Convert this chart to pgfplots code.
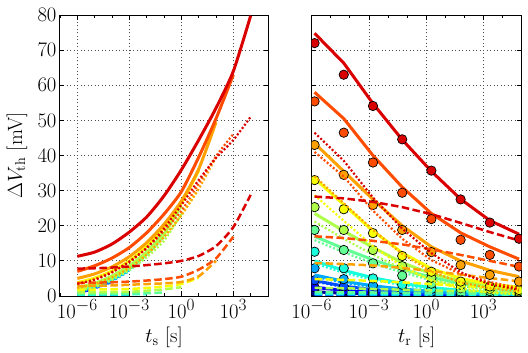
\documentclass[border=0pt]{standalone}
\usepackage{pgfplots}
\usepackage{pgfplotstable}
\pgfplotsset{compat=1.18}
\definecolor{c0}{rgb}{0,0,0.59}
\definecolor{c1}{rgb}{0,0,1}
\definecolor{c2}{rgb}{0,0.3,1}
\definecolor{c3}{rgb}{0,0.66,1}
\definecolor{c4}{rgb}{0.1,1,0.87}
\definecolor{c5}{rgb}{0.39,1,0.58}
\definecolor{c6}{rgb}{0.68,1,0.29}
\definecolor{c7}{rgb}{0.97,1,0.02}
\definecolor{c8}{rgb}{1,0.63,0}
\definecolor{c9}{rgb}{1,0.3,0}
\definecolor{c10}{rgb}{0.86,0,0}

\pgfplotstableread{
x S1 D1 P1 S2 D2 P2 S3 D3 P3 S4 D4 P4 S5 D5 P5 S6 D6 P6 S7 D7 P7 S8 D8 P8 S9 D9 P9 S10 D10 P10
1e-6 1.0 0.1 0.9 1.2 0.2 1.0 1.5 0.3 1.2 1.8 0.4 1.4 2.0 0.6 1.4 2.4 1.0 1.4 3.8 1.8 2.0 5.0 2.8 2.2 7.0 3.7 3.3 11.3 7.8 3.5
1e-5 2.1 0.12 1.98 2.4 0.22 2.18 2.7 0.32 2.38 3.0 0.42 2.58 3.2 0.62 2.58 3.6 1.05 2.55 5.1 1.85 3.25 6.3 2.9 3.4 8.6 3.8 4.8 12.5 7.9 4.6
1e-4 nan nan nan 4.2 0.25 3.95 4.6 0.35 4.25 5.0 0.45 4.55 5.3 0.65 4.65 5.7 1.1 4.6 7.1 1.9 5.2 8.3 3.0 5.3 10.8 3.9 6.9 14.8 8.1 6.7
1e-3 nan nan nan nan nan nan 7.5 0.4 7.1 7.8 0.5 7.3 8.2 0.7 7.5 8.6 1.2 7.4 10.0 2.0 8.0 11.2 3.2 8.0 13.8 4.1 9.7 18.2 8.4 9.8
1e-2 nan nan nan nan nan nan nan nan nan 12.0 0.55 11.45 12.2 0.8 11.4 12.5 1.5 11.0 14.1 2.3 11.8 15.2 3.4 11.8 18.0 4.4 13.6 22.5 8.8 13.7
1e-1 nan nan nan nan nan nan nan nan nan nan nan nan 18.0 1.0 17.0 17.6 1.9 15.7 19.5 2.7 16.8 20.4 3.6 16.8 23.3 4.8 18.5 28.5 9.3 19.2
1 nan nan nan nan nan nan nan nan nan nan nan nan nan nan nan 25.8 2.5 23.3 26.4 3.4 23.0 27.0 4.0 23.0 29.7 5.5 24.2 35.9 10.0 25.9
10 nan nan nan nan nan nan nan nan nan nan nan nan nan nan nan nan nan nan 35.7 5.2 30.5 36.1 5.6 30.5 39.5 7.5 32.0 44.4 11.4 33.0
100 nan nan nan nan nan nan nan nan nan nan nan nan nan nan nan nan nan nan nan nan nan 49.5 10.0 39.5 50.5 10.7 39.8 53.5 14.2 39.3
1000 nan nan nan nan nan nan nan nan nan nan nan nan nan nan nan nan nan nan nan nan nan nan nan nan 63.0 16.9 46.1 64.0 19.6 44.4
10000 nan nan nan nan nan nan nan nan nan nan nan nan nan nan nan nan nan nan nan nan nan nan nan nan nan nan nan 79.8 28.8 51.0
}\ltab

\pgfplotstableread{
x C0 S0 Q0 R0 C1 S1 Q1 R1 C2 S2 Q2 R2 C3 S3 Q3 R3 C4 S4 Q4 R4 C5 S5 Q5 R5 C6 S6 Q6 R6 C7 S7 Q7 R7 C8 S8 Q8 R8 C9 S9 Q9 R9 C10 S10 Q10 R10
1.41e-6 1.2 1.2 1.12 0.08 2.5 2.5 2.35 0.15 4.5 4.4 4.1 0.3 7.9 6.0 5.5 0.5 12.6 10.0 9.3 0.7 18.8 17.0 15.9 1.1 25.3 23.5 21.2 2.3 33.0 33.5 28.7 4.8 43.0 43.5 34.1 9.4 55.4 58.0 41.0 17.0 72.0 74.8 46.5 28.3
4.79e-5 0.8 0.8 0.73 0.07 1.5 1.6 1.47 0.13 2.7 2.8 2.55 0.28 4.8 4.2 3.75 0.45 7.9 7.3 6.6 0.7 13.1 13.5 12.45 1.05 18.8 18.5 16.3 2.2 24.7 26.0 21.4 4.6 34.5 35.5 26.4 9.1 46.5 50.5 34.0 16.5 63.0 66.3 38.5 27.8
1.62e-3 0.5 0.5 0.44 0.06 1.0 1.0 0.9 0.12 1.7 1.8 1.6 0.25 3.0 2.9 2.5 0.4 5.0 5.2 4.6 0.6 9.3 10.3 9.3 1.0 13.1 13.8 11.8 2.0 17.9 18.5 14.2 4.3 25.9 27.5 18.8 8.7 38.0 40.0 24.3 15.7 54.1 54.8 28.0 26.8
5.50e-2 0.3 0.3 0.25 0.05 0.6 0.65 0.57 0.1 1.1 1.15 1.0 0.22 1.9 2.0 1.65 0.35 3.2 3.6 3.1 0.5 5.8 7.6 6.7 0.9 8.5 9.5 7.7 1.8 11.4 12.3 8.4 3.9 18.8 20.0 12.0 8.0 29.4 31.0 16.3 14.7 44.6 44.5 19.2 25.3
1.86 0.2 0.2 0.16 0.04 0.4 0.42 0.35 0.08 0.7 0.75 0.62 0.2 1.2 1.3 1.0 0.3 2.0 2.4 1.95 0.45 3.5 5.3 4.5 0.8 5.2 6.3 4.7 1.6 6.9 7.8 4.4 3.4 12.5 14.0 6.9 7.1 21.9 23.5 10.2 13.3 35.7 35.5 12.2 23.3
63.1 0.15 0.15 0.12 0.03 0.3 0.3 0.24 0.07 0.45 0.5 0.4 0.17 0.8 0.9 0.65 0.25 1.3 1.6 1.2 0.4 2.2 3.6 2.9 0.7 3.2 4.2 2.8 1.4 4.1 5.0 2.1 2.9 8.8 10.0 3.9 6.1 16.0 18.0 6.3 11.7 27.5 27.6 6.8 20.8
2138 0.1 0.1 0.08 0.02 0.2 0.2 0.15 0.06 0.3 0.33 0.25 0.15 0.5 0.6 0.4 0.2 0.8 1.0 0.65 0.35 1.4 2.4 1.8 0.6 2.0 2.8 1.6 1.2 2.7 3.4 1.0 2.4 6.0 7.3 2.2 5.1 11.7 14.0 4.0 10.0 20.9 21.5 3.3 18.2
72444 0.1 0.1 0.06 0.02 0.15 0.15 0.1 0.05 0.2 0.22 0.15 0.12 0.3 0.4 0.25 0.15 0.5 0.7 0.4 0.3 0.9 1.6 1.1 0.5 1.3 1.9 0.9 1.0 1.7 2.5 0.5 2.0 4.1 5.5 1.3 4.2 8.4 10.5 2.2 8.3 16.3 17.6 1.8 15.8
}\rtab

\tikzset{
  lsol/.style={line width=3bp, solid},
  ldsh/.style={line width=2.5bp, dash pattern=on 7.5bp off 3.5bp},
  ldot/.style={line width=2.2bp, dash pattern=on 2bp off 2bp},
}

\begin{document}
\begin{tikzpicture}
\path[use as bounding box] (0,0) rectangle (528bp,353bp);
\begin{axis}[
  xmode=log,
  scale only axis, width=208bp, height=281bp,
  at={(60bp,57bp)}, anchor=south west,
  xmin=1e-7, xmax=1e5, ymin=0, ymax=80, ytick={0,10,...,80},
  xtick={1e-6,1e-3,1,1e3},
  xticklabels={$10^{\mbox{\LARGE$-6$}}$,$10^{\mbox{\LARGE$-3$}}$,$10^{\mbox{\LARGE$0$}}$,$10^{\mbox{\LARGE$3$}}$},
  minor xtick={1e-7,1e-5,1e-4,1e-2,1e-1,1e1,1e2,1e4,1e5},
  grid=major,
  major grid style={gray!60!black, line width=0.8bp, dash pattern=on 1bp off 2.5bp},
  tick align=inside, major tick length=4.5bp, minor tick length=2.5bp,
  tick style={black, line width=0.8bp},
  axis line style={black, line width=1bp},
  tick label style={font=\huge},
  label style={font=\huge},
  xlabel={$t_{\mathrm{s}}$ [s]},
  ylabel={$\Delta V_{\mathrm{th}}$ [mV]},
  xlabel style={at={(axis description cs:0.5,-0.146)}, anchor=center},
  ylabel style={at={(axis description cs:-0.207,0.5)}, anchor=center},
]
\pgfplotsinvokeforeach{1,...,10}{
  \addplot[ldsh, color=c#1, smooth, tension=0.4] table[x=x, y=D#1]{\ltab};
  \addplot[ldot, color=c#1, smooth, tension=0.4] table[x=x, y=P#1]{\ltab};
  \addplot[lsol, color=c#1, smooth, tension=0.4] table[x=x, y=S#1]{\ltab};
}
\end{axis}
\begin{axis}[
  xmode=log,
  scale only axis, width=210bp, height=281bp,
  at={(311.7bp,57bp)}, anchor=south west,
  xmin=1e-6, xmax=1e5, ymin=0, ymax=80, ytick={0,10,...,80},
  yticklabels={},
  xtick={1e-6,1e-3,1,1e3},
  xticklabels={$10^{\mbox{\LARGE$-6$}}$,$10^{\mbox{\LARGE$-3$}}$,$10^{\mbox{\LARGE$0$}}$,$10^{\mbox{\LARGE$3$}}$},
  minor xtick={1e-5,1e-4,1e-2,1e-1,1e1,1e2,1e4,1e5},
  grid=major,
  major grid style={gray!60!black, line width=0.8bp, dash pattern=on 1bp off 2.5bp},
  tick align=inside, major tick length=4.5bp, minor tick length=2.5bp,
  tick style={black, line width=0.8bp},
  axis line style={black, line width=1bp},
  tick label style={font=\huge},
  label style={font=\huge},
  clip marker paths=true,
  xlabel={$t_{\mathrm{r}}$ [s]},
  xlabel style={at={(axis description cs:0.5,-0.146)}, anchor=center},
]
\pgfplotsinvokeforeach{0,...,10}{
  \addplot[ldsh, color=c#1] table[x=x, y=R#1]{\rtab};
  \addplot[ldot, color=c#1] table[x=x, y=Q#1]{\rtab};
  \addplot[lsol, color=c#1] table[x=x, y=S#1]{\rtab};
  \addplot[only marks, mark=*, mark size=4.7bp, color=c#1,
    mark options={solid, fill=c#1, draw=black, line width=0.7bp}] table[x=x, y=C#1]{\rtab};
}
\end{axis}
\end{tikzpicture}
\end{document}
